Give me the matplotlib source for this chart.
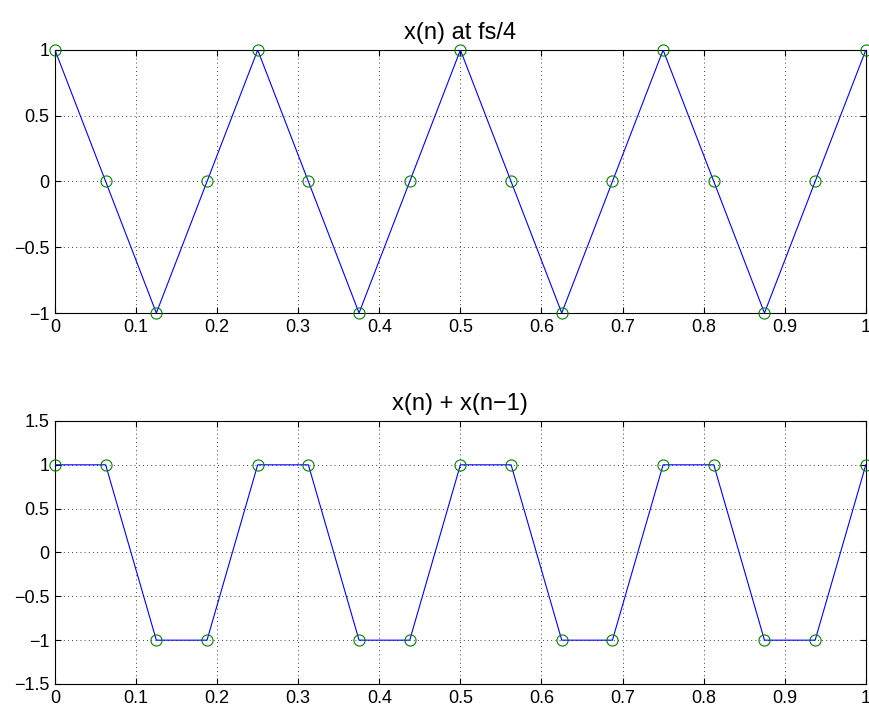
import matplotlib
matplotlib.use("Agg")
import matplotlib.pyplot as plt

# sample times n/16 (fs/4 signal, 17 samples)
t = [0, 0.0625, 0.125, 0.1875, 0.25, 0.3125, 0.375, 0.4375, 0.5,
     0.5625, 0.625, 0.6875, 0.75, 0.8125, 0.875, 0.9375, 1.0]
x = [1, 0, -1, 0, 1, 0, -1, 0, 1, 0, -1, 0, 1, 0, -1, 0, 1]
y = [1, 1, -1, -1, 1, 1, -1, -1, 1, 1, -1, -1, 1, 1, -1, -1, 1]

top_title = "x(n) at fs/4"
bot_title = "x(n) + x(n\u22121)"

plt.rcParams['font.family'] = ['Liberation Sans', 'DejaVu Sans']
plt.rcParams['axes.unicode_minus'] = True

fig = plt.figure(figsize=(8.7, 7.08), dpi=100)
ax1 = fig.add_axes([0.0632, 0.5579, 0.932, 0.3715])
ax2 = fig.add_axes([0.0632, 0.0339, 0.932, 0.3715])


def style(ax, data, title, ylim, yticks):
    ax.plot(t, data, color='blue', lw=0.8, zorder=3)
    ax.plot(t, data, 'o', mfc='none', mec='green', ms=8, mew=0.8,
            zorder=4, clip_on=False)
    ax.set_xlim(0, 1)
    ax.set_ylim(*ylim)
    ax.set_xticks([i / 10 for i in range(11)])
    ax.set_xticklabels(['0', '0.1', '0.2', '0.3', '0.4', '0.5', '0.6',
                        '0.7', '0.8', '0.9', '1'])
    ax.set_yticks(yticks)
    ax.set_yticklabels([('\u2212' if v < 0 else '') + f"{abs(v):g}" for v in yticks])
    ax.grid(True, color='black', ls=(0, (1, 4)), lw=0.6)
    ax.tick_params(direction='in', top=True, right=True, length=4,
                   labelsize=13, pad=4)
    for s in ax.spines.values():
        s.set_linewidth(0.8)
    ax.set_title(title, fontsize=17, pad=8)


style(ax1, x, top_title, (-1, 1), [-1, -0.5, 0, 0.5, 1])
style(ax2, y, bot_title, (-1.5, 1.5), [-1.5, -1, -0.5, 0, 0.5, 1, 1.5])

fig.savefig("out.png", dpi=100)
